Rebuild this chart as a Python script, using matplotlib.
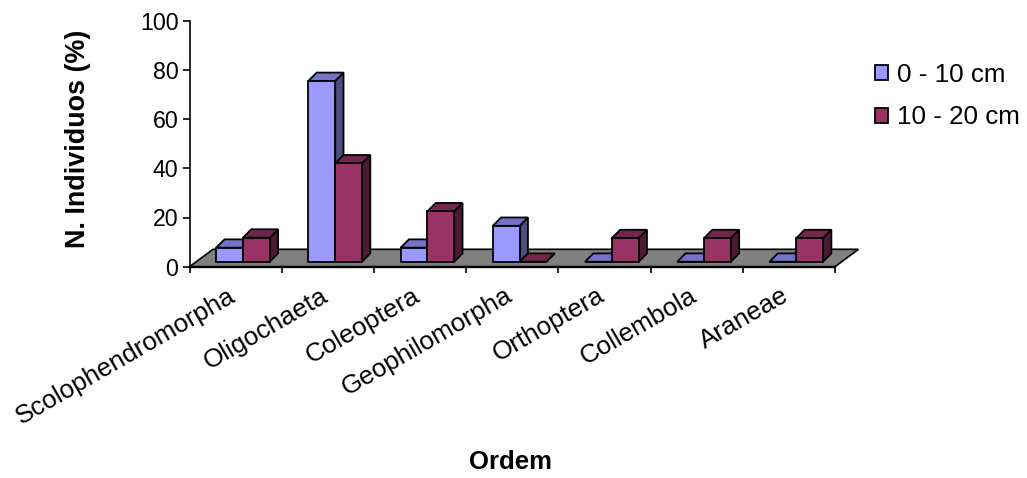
import matplotlib
matplotlib.use("Agg")
import matplotlib.pyplot as plt
from matplotlib.patches import Polygon, Patch
from matplotlib.transforms import ScaledTranslation
import numpy as np

plt.rcParams['font.family'] = ['Liberation Sans', 'DejaVu Sans']

# Values
categories = ["Scolophendromorpha", "Oligochaeta", "Coleoptera", "Geophilomorpha",
              "Orthoptera", "Collembola", "Araneae"]
shallow = [5.7, 73.5, 5.7, 14.6, 0, 0, 0]
deep = [9.8, 40, 20.5, 0, 9.6, 9.6, 9.6]
y_ticks = [0, 20, 40, 60, 80, 100]
series_names = ["0 - 10 cm", "10 - 20 cm"]

W, H = 1027, 478
fig = plt.figure(figsize=(W / 100, H / 100), dpi=100)
ax = fig.add_axes([189.5 / W, 1 - 266.7 / H, (835 - 189.5) / W, (266.7 - 20.7) / H])
ax.set_xlim(0, len(categories))
ax.set_ylim(0, 100)

# pixel to data factors for the fake 3D depth
px_x = len(categories) / (835 - 189.5)
px_y = 100 / (266.7 - 20.7)

floor_dx = 23.5 * px_x
floor_dy = 17.4 * px_y
depth_x = 8.3 * px_x
depth_y = 8.3 * px_y
base = 5 * px_y
bar_w = 26.8 * px_x
first = (243 - 189.5) * px_x

# floor
ax.add_patch(Polygon([(0, 0), (7, 0), (7 + floor_dx, floor_dy), (floor_dx, floor_dy)],
                     closed=True, facecolor="#808080", edgecolor="black", lw=1.2,
                     clip_on=False, zorder=1))


def draw_bar(x, val, front, top, side, z):
    # side, top, then front face
    ax.add_patch(Polygon([(x + bar_w, base), (x + bar_w + depth_x, base + depth_y),
                          (x + bar_w + depth_x, base + val + depth_y), (x + bar_w, base + val)],
                         closed=True, facecolor=side, edgecolor="black", lw=1.3,
                         clip_on=False, zorder=z))
    ax.add_patch(Polygon([(x, base + val), (x + bar_w, base + val),
                          (x + bar_w + depth_x, base + val + depth_y), (x + depth_x, base + val + depth_y)],
                         closed=True, facecolor=top, edgecolor="black", lw=1.3,
                         clip_on=False, zorder=z))
    ax.bar(x, val, width=bar_w, bottom=base, align="edge", color=front,
           edgecolor="black", lw=1.3, zorder=z, clip_on=False)


for i in range(len(categories)):
    x0 = i + first
    draw_bar(x0 - bar_w, shallow[i], "#9999FF", "#7373C8", "#4D4D80", 3 + i * 2)
    draw_bar(x0, deep[i], "#993366", "#73264D", "#4D1A33", 4 + i * 2)

# axes
ax.spines["top"].set_visible(False)
ax.spines["right"].set_visible(False)
ax.spines["left"].set_linewidth(1.2)
ax.spines["bottom"].set_linewidth(1.7)
ax.spines["left"].set_zorder(30)
ax.spines["bottom"].set_zorder(30)

ax.set_yticks(y_ticks)
ax.tick_params(axis="y", labelsize=16.7, length=5, width=1.2, pad=3, colors="black")
ax.set_xticks(np.arange(len(categories) + 1))
ax.set_xticklabels([])
ax.tick_params(axis="x", which="major", length=4, width=1.2)
ax.set_xticks(np.arange(len(categories)) + 0.5, minor=True)
ax.set_xticklabels(categories, minor=True, rotation=30, ha="right", va="top",
                   rotation_mode="anchor", fontsize=18.7)
ax.tick_params(axis="x", which="minor", length=0, pad=12)
nudge = ScaledTranslation(-8 / 100, 0, fig.dpi_scale_trans)
for lab in ax.get_xticklabels(minor=True):
    lab.set_transform(lab.get_transform() + nudge)

fig.text(78 / W, 1 - 139 / H, "N. Individuos (%)", rotation=90, ha="center", va="center",
         fontsize=19.4, fontweight="bold")
fig.text(511 / W, 1 - 462 / H, "Ordem", ha="center", va="center",
         fontsize=18.5, fontweight="bold")

handles = [Patch(facecolor="#9999FF", edgecolor="black", lw=1.3),
           Patch(facecolor="#993366", edgecolor="black", lw=1.3)]
fig.legend(handles, series_names, loc="upper left", bbox_to_anchor=(854 / W, 1 - 42 / H),
           frameon=False, fontsize=18.7, handlelength=0.5, handleheight=0.5,
           handletextpad=0.35, labelspacing=0.72, borderpad=0.3)

plt.savefig("out.png", dpi=100)
plt.close()
